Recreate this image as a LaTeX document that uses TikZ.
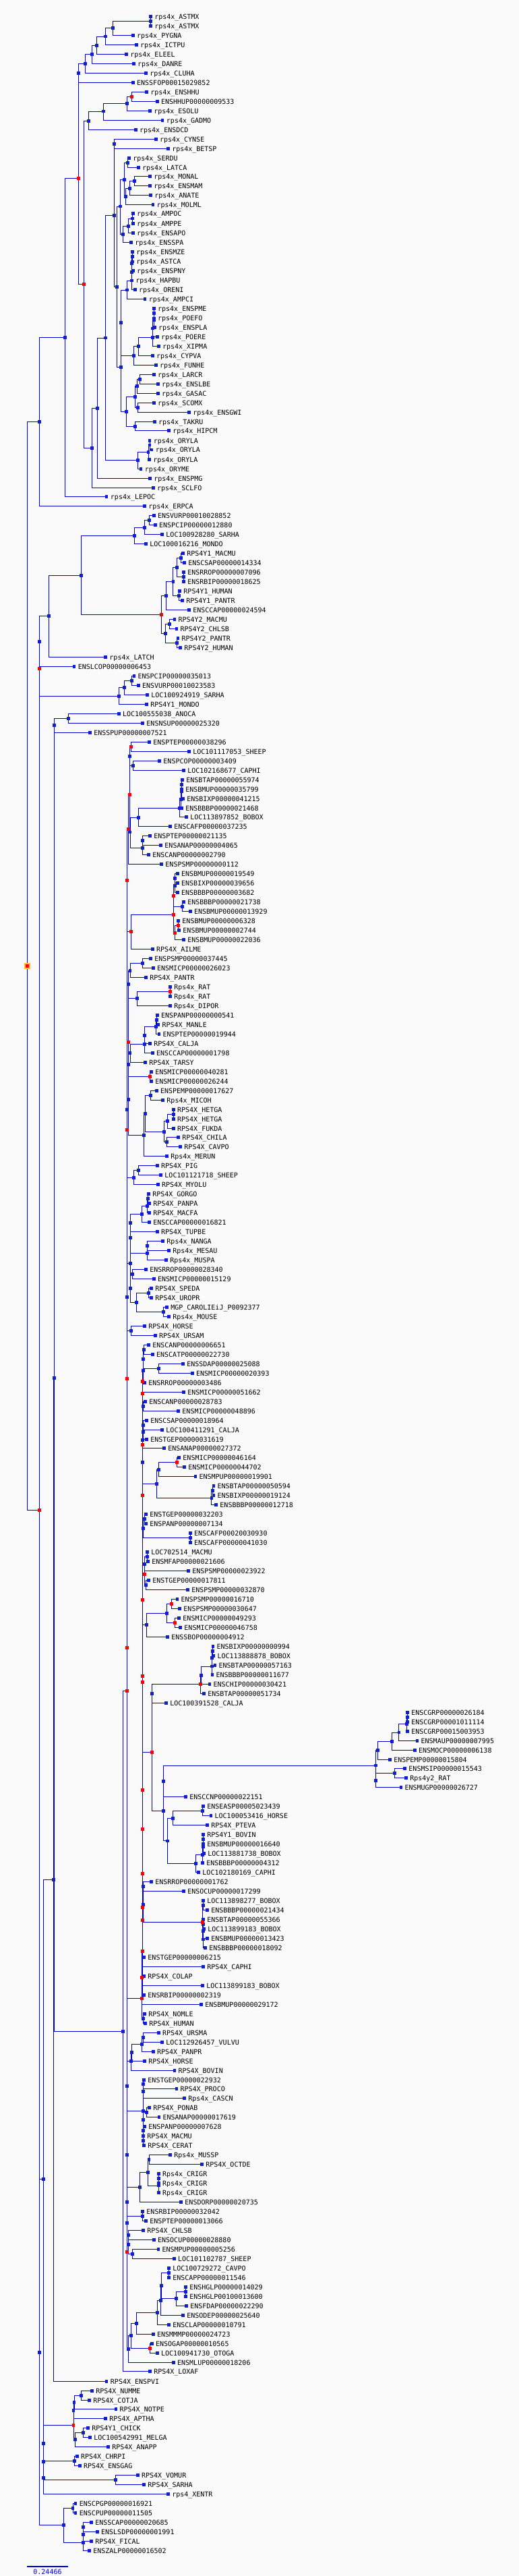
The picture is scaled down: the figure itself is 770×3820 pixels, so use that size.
\documentclass[tikz,border=0pt]{standalone}
\usepackage{fontspec}
\newfontfamily\lblfam{DejaVu Sans Mono}
\definecolor{lineblue}{RGB}{0,0,204}
\definecolor{sqblue}{RGB}{16,32,204}
\definecolor{nodered}{RGB}{255,0,0}
\definecolor{bgcol}{RGB}{250,250,250}
\definecolor{hlyellow}{RGB}{240,192,64}
\pgfdeclarelayer{bg}
\pgfsetlayers{bg,main}
\tikzset{
  lsq/.style={fill=sqblue,draw=none,minimum size=3.4pt,inner sep=0pt,outer sep=0pt},
  isq/.style={fill=sqblue,draw=none,minimum size=3.6pt,inner sep=0pt,outer sep=0pt},
  rsq/.style={fill=nodered,draw=none,minimum size=3.6pt,inner sep=0pt,outer sep=0pt},
  lbl/.style={anchor=base west,inner sep=0pt,font=\lblfam\fontsize{7.5pt}{7.5pt}\selectfont},
  edge/.style={draw=lineblue,line width=0.75pt}
}
\makeatletter
\def\edgelist{}
\newcommand\kidsdraw[2]{\foreach \kid in {#2}{\draw[edge] (#1.center) |- (\kid.center);}}
\newcommand\kids[2]{\g@addto@macro\edgelist{\kidsdraw{#1}{#2}}}
\makeatother
\newcommand\Lf[4]{\node[lsq] (#1) at (#2,#3) {}; \node[lbl] (#1t) at (#2+5.5,#3+3.8) {#4};}
\newcommand\In[4]{\node[isq] (#1) at (#2,#3) {}; \kids{#1}{#4}}
\newcommand\Rn[4]{\node[rsq] (#1) at (#2,#3) {}; \kids{#1}{#4}}
\begin{document}
\begin{tikzpicture}[x=0.75pt,y=-0.75pt]
\useasboundingbox (0,0) rectangle (770,3820);
% ---------- leaves, top clade
\Lf{A1}{223.5}{24.3}{rps4x\_ASTMX}
\Lf{A2}{223.5}{38.3}{rps4x\_ASTMX}
\Lf{A3}{197.4}{52.3}{rps4x\_PYGNA}
\Lf{A4}{202.4}{66.3}{rps4x\_ICTPU}
\Lf{A5}{187.6}{80.3}{rps4x\_ELEEL}
\Lf{A6}{198.4}{94.3}{rps4x\_DANRE}
\Lf{A7}{216.6}{108.3}{rps4x\_CLUHA}
\Lf{A8}{197.4}{122.3}{ENSSFOP00015029852}
\Lf{A9}{217.6}{136.3}{rps4x\_ENSHHU}
\Lf{A10}{233.3}{150.3}{ENSHHUP00000009533}
\Lf{A11}{222.5}{164.3}{rps4x\_ESOLU}
\Lf{A12}{241.2}{178.3}{rps4x\_GADMO}
\Lf{A13}{201.4}{192.3}{rps4x\_ENSDCD}
\Lf{A14}{231.3}{206.3}{rps4x\_CYNSE}
\Lf{A15}{249.5}{220.3}{rps4x\_BETSP}
\Lf{A16}{191.6}{234.7}{rps4x\_SERDU}
\Lf{A17}{205.3}{248.7}{rps4x\_LATCA}
\Lf{A18}{222.5}{261.3}{rps4x\_MONAL}
\Lf{A19}{222.5}{275.3}{rps4x\_ENSMAM}
\Lf{A20}{223.5}{289.3}{rps4x\_ANATE}
\Lf{A21}{226.9}{303.3}{rps4x\_MOLML}
\Lf{A22}{197.4}{316.7}{rps4x\_AMPOC}
\Lf{A23}{197.4}{331.3}{rps4x\_AMPPE}
\Lf{A24}{197.4}{345.3}{rps4x\_ENSAPO}
\Lf{A25}{194.5}{359.3}{rps4x\_ENSSPA}
\Lf{A26}{196.5}{373.3}{rps4x\_ENSMZE}
\Lf{A27}{196.5}{388}{rps4x\_ASTCA}
\Lf{A28}{197.4}{401.3}{rps4x\_ENSPNY}
\Lf{A29}{195.5}{416}{rps4x\_HAPBU}
\Lf{A30}{200.4}{429.3}{rps4x\_ORENI}
\Lf{A31}{215.1}{443.3}{rps4x\_AMPCI}
\Lf{A32}{228.4}{457.3}{rps4x\_ENSPME}
\Lf{A33}{228.4}{472}{rps4x\_POEFO}
\Lf{A34}{229.4}{485.7}{rps4x\_ENSPLA}
\Lf{A35}{233.3}{499.7}{rps4x\_POERE}
\Lf{A36}{235.3}{513.3}{rps4x\_XIPMA}
\Lf{A37}{226.4}{527.3}{rps4x\_CYPVA}
\Lf{A38}{231.3}{541.3}{rps4x\_FUNHE}
\Lf{A39}{228.4}{555.3}{rps4x\_LARCR}
\Lf{A40}{234.3}{569.3}{rps4x\_ENSLBE}
\Lf{A41}{234.3}{583.3}{rps4x\_GASAC}
\Lf{A42}{228.4}{597.3}{rps4x\_SCOMX}
\Lf{A43}{280.5}{611.3}{rps4x\_ENSGWI}
\Lf{A44}{229.4}{625.3}{rps4x\_TAKRU}
\Lf{A45}{250.5}{638.3}{rps4x\_HIPCM}
\Lf{A46}{222}{653.3}{rps4x\_ORYLA}
\Lf{A47}{225}{667}{rps4x\_ORYLA}
\Lf{A48}{221.5}{681.7}{rps4x\_ORYLA}
\Lf{A49}{209.2}{695.7}{rps4x\_ORYME}
\Lf{A50}{222.5}{709.3}{rps4x\_ENSPMG}
\Lf{A51}{227.4}{723.3}{rps4x\_SCLFO}
\Lf{A52}{158.2}{736.3}{rps4x\_LEPOC}
\Lf{A53}{214.6}{750.3}{rps4x\_ERPCA}
% ---------- leaves, second clade
\Lf{B1}{228.4}{764.3}{ENSVURP00010028852}
\Lf{B2}{230.4}{778.3}{ENSPCIP00000012880}
\Lf{B3}{240.7}{792.3}{LOC100928280\_SARHA}
\Lf{B4}{216.6}{806.3}{LOC100016216\_MONDO}
\Lf{B5}{271.6}{820.3}{RPS4Y1\_MACMU}
\Lf{B6}{273.6}{834.3}{ENSCSAP00000014334}
\Lf{B7}{272.6}{848.3}{ENSRROP00000007096}
\Lf{B8}{272.6}{862.3}{ENSRBIP00000018625}
\Lf{B9}{266.7}{876.3}{RPS4Y1\_HUMAN}
\Lf{B10}{270.6}{890.3}{RPS4Y1\_PANTR}
\Lf{B11}{280.5}{904.3}{ENSCCAP00000024594}
\Lf{B12}{258.8}{918.3}{RPS4Y2\_MACMU}
\Lf{B13}{261.8}{932.3}{RPS4Y2\_CHLSB}
\Lf{B14}{263.8}{946.3}{RPS4Y2\_PANTR}
\Lf{B15}{267.7}{960.3}{RPS4Y2\_HUMAN}
\Lf{B16}{156.7}{974.3}{rps4x\_LATCH}
\Lf{B17}{110}{988.3}{ENSLCOP00000006453}
\Lf{B18}{198.9}{1002.3}{ENSPCIP00000035013}
\Lf{B19}{205.3}{1016.3}{ENSVURP00010023583}
\Lf{B20}{218.6}{1030.3}{LOC100924919\_SARHA}
\Lf{B21}{217.6}{1044.7}{RPS4Y1\_MONDO}
\Lf{B22}{176.3}{1058.3}{LOC100555038\_ANOCA}
\Lf{B23}{211.7}{1072.3}{ENSNSUP00000025320}
\Lf{B24}{133.6}{1086.3}{ENSSPUP00000007521}
% ---------- leaves, middle clade
\Lf{C1}{221.5}{1100.3}{ENSPTEP00000038296}
\Lf{C2}{280.5}{1114.3}{LOC101117053\_SHEEP}
\Lf{C3}{236.7}{1128.3}{ENSPCOP00000003409}
\Lf{C4}{272.6}{1142.3}{LOC102168677\_CAPHI}
\Lf{C5}{270.6}{1156.7}{ENSBTAP00000055974}
\Lf{C6}{269.6}{1170.7}{ENSBMUP00000035799}
\Lf{C7}{271.6}{1184.3}{ENSBIXP00000041215}
\Lf{C8}{269.6}{1198.3}{ENSBBBP00000021468}
\Lf{C9}{276.5}{1211.7}{LOC113897852\_BOBOX}
\Lf{C10}{252.5}{1225.3}{ENSCAFP00000037235}
\Lf{C11}{222.5}{1239.3}{ENSPTEP00000021135}
\Lf{C12}{238.7}{1253.3}{ENSANAP00000004065}
\Lf{C13}{220.5}{1267.3}{ENSCANP00000002790}
\Lf{C14}{239.7}{1281.7}{ENSPSMP00000000112}
\Lf{C15}{263.3}{1295.3}{ENSBMUP00000019549}
\Lf{C16}{263.3}{1309.3}{ENSBIXP00000039656}
\Lf{C17}{263.3}{1323.3}{ENSBBBP00000003682}
\Lf{C18}{272.6}{1337.3}{ENSBBBP00000021738}
\Lf{C19}{282.4}{1351.3}{ENSBMUP00000013929}
\Lf{C20}{264.7}{1365.3}{ENSBMUP00000006328}
\Lf{C21}{265.7}{1379.3}{ENSBMUP00000002744}
\Lf{C22}{272.6}{1393.3}{ENSBMUP00000022036}
\Lf{C23}{226.4}{1407.3}{RPS4X\_AILME}
\Lf{C24}{223.5}{1421.3}{ENSPSMP00000037445}
\Lf{C25}{227.4}{1435.3}{ENSMICP00000026023}
\Lf{C26}{216.6}{1449.3}{RPS4X\_PANTR}
\Lf{C27}{252.5}{1463.3}{Rps4x\_RAT}
\Lf{C28}{252.5}{1477.3}{Rps4x\_RAT}
\Lf{C29}{252.5}{1491.3}{Rps4x\_DIPOR}
\Lf{C30}{233.3}{1505.3}{ENSPANP00000000541}
\Lf{C31}{234.8}{1519.3}{RPS4X\_MANLE}
\Lf{C32}{235.8}{1533.3}{ENSPTEP00000019944}
\Lf{C33}{222.5}{1547.3}{RPS4X\_CALJA}
\Lf{C34}{226.4}{1561.3}{ENSCCAP00000001798}
\Lf{C35}{215.6}{1575.3}{RPS4X\_TARSY}
\Lf{C36}{224.5}{1589.3}{ENSMICP00000040281}
\Lf{C37}{224.5}{1603.3}{ENSMICP00000026244}
\Lf{C38}{232.3}{1617.3}{ENSPEMP00000017627}
\Lf{C39}{241.7}{1631.3}{Rps4x\_MICOH}
\Lf{C40}{257.4}{1645.3}{RPS4X\_HETGA}
\Lf{C41}{257.4}{1659.3}{RPS4X\_HETGA}
\Lf{C42}{257.4}{1673.3}{RPS4X\_FUKDA}
\Lf{C43}{264.7}{1686.3}{RPS4X\_CHILA}
\Lf{C44}{267.7}{1700.3}{RPS4X\_CAVPO}
\Lf{C45}{247.5}{1714.3}{Rps4x\_MERUN}
\Lf{C46}{233.3}{1728.3}{RPS4X\_PIG}
\Lf{C47}{238.7}{1742.3}{LOC101121718\_SHEEP}
\Lf{C48}{234.3}{1756.3}{RPS4X\_MYOLU}
\Lf{C49}{220.5}{1770.3}{RPS4X\_GORGO}
\Lf{C50}{221.5}{1784.3}{RPS4X\_PANPA}
\Lf{C51}{221.5}{1798.3}{RPS4X\_MACFA}
\Lf{C52}{221.5}{1812.3}{ENSCCAP00000016821}
\Lf{C53}{233.3}{1826.3}{RPS4X\_TUPBE}
\Lf{C54}{241.7}{1840.3}{Rps4x\_NANGA}
\Lf{C55}{250.5}{1854.3}{Rps4x\_MESAU}
\Lf{C56}{246.6}{1868.3}{Rps4x\_MUSPA}
\Lf{C57}{216.6}{1882.3}{ENSRROP00000028340}
\Lf{C58}{228.4}{1896.3}{ENSMICP00000015129}
\Lf{C59}{224.5}{1910.3}{RPS4X\_SPEDA}
\Lf{C60}{224.5}{1924.3}{RPS4X\_UROPR}
\Lf{C61}{247.5}{1938.3}{MGP\_CAROLIEiJ\_P0092377}
\Lf{C62}{250.5}{1952.3}{Rps4x\_MOUSE}
\Lf{C63}{214.6}{1966.3}{RPS4X\_HORSE}
\Lf{C64}{230.4}{1980.3}{RPS4X\_URSAM}
\Lf{C65}{220.5}{1994.3}{ENSCANP00000006651}
\Lf{C66}{226.4}{2008.3}{ENSCATP00000022730}
\Lf{C67}{271.6}{2022.3}{ENSSDAP00000025088}
\Lf{C68}{285.4}{2036.3}{ENSMICP00000020393}
\Lf{C69}{214.6}{2050.3}{ENSRROP00000003486}
\Lf{C70}{272.6}{2064.3}{ENSMICP00000051662}
\Lf{C71}{215.6}{2078.3}{ENSCANP00000028783}
\Lf{C72}{264.7}{2092.3}{ENSMICP00000048896}
\Lf{C73}{217.6}{2106.3}{ENSCSAP00000018964}
\Lf{C74}{240.7}{2120.3}{LOC100411291\_CALJA}
\Lf{C75}{217.6}{2134.3}{ENSTGEP00000031619}
\Lf{C76}{243.6}{2147.7}{ENSANAP00000027372}
\Lf{C77}{265.7}{2161.3}{ENSMICP00000046164}
\Lf{C78}{273.6}{2175.3}{ENSMICP00000044702}
\Lf{C79}{289.8}{2189.3}{ENSMPUP00000019901}
\Lf{C80}{316.8}{2203.3}{ENSBTAP00000050594}
\Lf{C81}{316.8}{2217.3}{ENSBIXP00000019124}
\Lf{C82}{320.7}{2231.3}{ENSBBBP00000012718}
\Lf{C83}{216.6}{2245.3}{ENSTGEP00000032203}
\Lf{C84}{216.6}{2259.3}{ENSPANP00000007134}
\Lf{C85}{282.4}{2273.3}{ENSCAFP00020030930}
\Lf{C86}{282.4}{2287.3}{ENSCAFP00000041030}
\Lf{C87}{218.6}{2301.3}{LOC702514\_MACMU}
\Lf{C88}{219.5}{2315.3}{ENSMFAP00000021606}
\Lf{C89}{279.5}{2329.3}{ENSPSMP00000023922}
\Lf{C90}{220.5}{2343.3}{ENSTGEP00000017811}
\Lf{C91}{278.5}{2357.3}{ENSPSMP00000032870}
\Lf{C92}{262.8}{2371.3}{ENSPSMP00000016710}
\Lf{C93}{266.7}{2385.3}{ENSPSMP00000030647}
\Lf{C94}{265.7}{2399.3}{ENSMICP00000049293}
\Lf{C95}{267.7}{2413.3}{ENSMICP00000046758}
\Lf{C96}{248.5}{2427.3}{ENSSBOP00000004912}
\Lf{C97}{315.8}{2441.3}{ENSBIXP00000000994}
\Lf{C98}{316.8}{2455.3}{LOC113888878\_BOBOX}
\Lf{C99}{318.8}{2469.3}{ENSBTAP00000057163}
\Lf{C100}{314.8}{2483.3}{ENSBBBP00000011677}
\Lf{C101}{310.9}{2497.3}{ENSCHIP00000030421}
\Lf{C102}{302.6}{2511.3}{ENSBTAP00000051734}
\Lf{C103}{246.6}{2525.3}{LOC100391528\_CALJA}
\Lf{C104}{604.6}{2539.3}{ENSCGRP00000026184}
\Lf{C105}{604.6}{2553.3}{ENSCGRP00001011114}
\Lf{C106}{604.6}{2567.3}{ENSCGRP00015003953}
\Lf{C107}{618.9}{2581.3}{ENSMAUP00000007995}
\Lf{C108}{615.4}{2595.3}{ENSMOCP00000006138}
\Lf{C109}{578.6}{2609.3}{ENSPEMP00000015804}
\Lf{C110}{600.7}{2622.7}{ENSMSIP00000015543}
\Lf{C111}{602.6}{2636.7}{Rps4y2\_RAT}
\Lf{C112}{594.8}{2650.7}{ENSMUGP00000026727}
\Lf{C113}{275.5}{2664.7}{ENSCCNP00000022151}
\Lf{C114}{301.6}{2678.7}{ENSEASP00005023439}
\Lf{C115}{312.9}{2692.7}{LOC100053416\_HORSE}
\Lf{C116}{307.5}{2706.7}{RPS4X\_PTEVA}
\Lf{C117}{301.6}{2720.7}{RPS4Y1\_BOVIN}
\Lf{C118}{301.6}{2734.7}{ENSBMUP00000016640}
\Lf{C119}{302.6}{2748.7}{LOC113881738\_BOBOX}
\Lf{C120}{300.6}{2762.7}{ENSBBBP00000004312}
\Lf{C121}{294.7}{2776.7}{LOC102180169\_CAPHI}
\Lf{C122}{224.5}{2790.3}{ENSRROP00000001762}
\Lf{C123}{272.6}{2804.3}{ENSOCUP00000017299}
\Lf{C124}{301.6}{2818.3}{LOC113898277\_BOBOX}
\Lf{C125}{307.5}{2832.3}{ENSBBBP00000021434}
\Lf{C126}{301.6}{2846.3}{ENSBTAP00000055366}
\Lf{C127}{302.6}{2860.3}{LOC113899183\_BOBOX}
\Lf{C128}{307.5}{2874.3}{ENSBMUP00000013423}
\Lf{C129}{304.5}{2888.3}{ENSBBBP00000018092}
\Lf{C130}{213.7}{2902.3}{ENSTGEP00000006215}
\Lf{C131}{301.6}{2916.3}{RPS4X\_CAPHI}
\Lf{C132}{213.7}{2930.3}{RPS4X\_COLAP}
\Lf{C133}{300.6}{2944.3}{LOC113899183\_BOBOX}
\Lf{C134}{213.7}{2958.3}{ENSRBIP00000002319}
\Lf{C135}{298.6}{2972.3}{ENSBMUP00000029172}
\Lf{C136}{214.6}{2986.3}{RPS4X\_NOMLE}
\Lf{C137}{215.6}{3000.3}{RPS4X\_HUMAN}
\Lf{C138}{235.3}{3014.3}{RPS4X\_URSMA}
\Lf{C139}{240.7}{3028.3}{LOC112926457\_VULVU}
\Lf{C140}{227.4}{3042.3}{RPS4X\_PANPR}
\Lf{C141}{214.6}{3056.3}{RPS4X\_HORSE}
\Lf{C142}{258.8}{3070.3}{RPS4X\_BOVIN}
\Lf{C143}{213.7}{3084.3}{ENSTGEP00000022932}
\Lf{C144}{261.8}{3097.3}{RPS4X\_PROCO}
\Lf{C145}{273.6}{3111.3}{Rps4x\_CASCN}
\Lf{C146}{221.5}{3125.3}{RPS4X\_PONAB}
\Lf{C147}{235.8}{3139.3}{ENSANAP00000017619}
\Lf{C148}{214.6}{3153.3}{ENSPANP00000007628}
\Lf{C149}{212.7}{3167.3}{RPS4X\_MACMU}
\Lf{C150}{213.7}{3181.3}{RPS4X\_CERAT}
\Lf{C151}{252.5}{3195.3}{Rps4x\_MUSSP}
\Lf{C152}{299.6}{3209.3}{RPS4X\_OCTDE}
\Lf{C153}{235.3}{3223.3}{Rps4x\_CRIGR}
\Lf{C154}{235.3}{3237.3}{Rps4x\_CRIGR}
\Lf{C155}{235.3}{3251.3}{Rps4x\_CRIGR}
\Lf{C156}{268.7}{3265.3}{ENSDORP00000020735}
\Lf{C157}{211.7}{3279.3}{ENSRBIP00000032042}
\Lf{C158}{216.6}{3293.3}{ENSPTEP00000013066}
\Lf{C159}{212.7}{3307.3}{RPS4X\_CHLSB}
\Lf{C160}{228.4}{3321.3}{ENSOCUP00000028880}
\Lf{C161}{234.8}{3335.3}{ENSMPUP00000005256}
\Lf{C162}{258.4}{3349.3}{LOC101102787\_SHEEP}
\Lf{C163}{250.5}{3363.3}{LOC100729272\_CAVPO}
\Lf{C164}{250.5}{3377.3}{ENSCAPP00000011546}
\Lf{C165}{275.5}{3391.3}{ENSHGLP00000014029}
\Lf{C166}{275.5}{3405.3}{ENSHGLP00100013600}
\Lf{C167}{276.5}{3419.3}{ENSFDAP00000022290}
\Lf{C168}{271.6}{3433.3}{ENSODEP00000025640}
\Lf{C169}{250.5}{3447.3}{ENSCLAP00000010791}
\Lf{C170}{227.4}{3461.3}{ENSMMMP00000024723}
\Lf{C171}{225.4}{3475.3}{ENSOGAP00000010565}
\Lf{C172}{233.3}{3489.3}{LOC100941730\_OTOGA}
\Lf{C173}{257.4}{3503.3}{ENSMLUP00000018206}
\Lf{C174}{222.5}{3516.7}{RPS4X\_LOXAF}
% ---------- leaves, bottom clade
\Lf{D1}{158.2}{3531.3}{RPS4X\_ENSPVI}
\Lf{D2}{136.5}{3545.3}{RPS4X\_NUMME}
\Lf{D3}{132.6}{3559.3}{RPS4X\_COTJA}
\Lf{D4}{171.9}{3572.3}{RPS4X\_NOTPE}
\Lf{D5}{156.7}{3586.3}{RPS4X\_APTHA}
\Lf{D6}{130.6}{3600.3}{RPS4Y1\_CHICK}
\Lf{D7}{133.6}{3614.3}{LOC100542991\_MELGA}
\Lf{D8}{160.6}{3628.3}{RPS4X\_ANAPP}
\Lf{D9}{114.4}{3642.7}{RPS4X\_CHRPI}
\Lf{D10}{118.4}{3656.3}{RPS4X\_ENSGAG}
\Lf{D11}{204.3}{3670.7}{RPS4X\_VOMUR}
\Lf{D12}{213.7}{3684.3}{RPS4X\_SARHA}
\Lf{D13}{249.5}{3698.3}{rps4\_XENTR}
\Lf{D14}{112}{3712.3}{ENSCPGP00000016921}
\Lf{D15}{112}{3726.3}{ENSCPUP00000011505}
\Lf{D16}{135.6}{3740.3}{ENSSCAP00000020685}
\Lf{D17}{144.4}{3754.3}{ENSLSDP00000001991}
\Lf{D18}{135.6}{3768.3}{RPS4X\_FICAL}
\Lf{D19}{132.6}{3782.3}{ENSZALP00000016502}
% ---------- internal nodes, top clade
\In{a1}{223.5}{31.3}{A1,A2}
\In{a2}{167.5}{41.3}{a1,A3}
\In{a3}{156.7}{54}{a2,A4}
\In{a4}{143.4}{67.3}{a3,A5}
\In{a5}{136.5}{80.3}{a4,A6}
\In{a6}{126.7}{94.3}{a5,A7}
\In{a7}{116.4}{108.3}{a6,A8}
\Rn{b4}{195.5}{143.3}{A9,A10}
\In{b3}{188.6}{153.3}{b4,A11}
\In{b2}{153.7}{165}{b3,A12}
\In{b1}{131.6}{179.3}{b2,A13}
\In{f1}{169.4}{213.3}{A14,A15}
\In{g4}{189.6}{241.3}{A16,A17}
\In{g7}{199.4}{268.3}{A18,A19}
\In{g6}{192.5}{279.3}{g7,A20}
\In{g5}{186.6}{291.3}{g6,A21}
\In{g3}{184.7}{266.3}{g4,g5}
\In{g10}{196.5}{324}{A22,A23}
\In{g9}{190.6}{335.3}{g10,A24}
\In{g8}{182.7}{347.3}{g9,A25}
\In{g2}{178.3}{306}{g3,g8}
\In{i5}{196.5}{380.3}{A26,A27}
\In{i4}{195.5}{390.7}{i5,A28}
\In{i3}{195.5}{403.3}{i4,A29}
\In{i2}{195.5}{416}{i3,A30}
\In{i1}{188.1}{430}{i2,A31}
\In{j6}{228.4}{464.3}{A32,A33}
\In{j5}{228.4}{474.5}{j6,A34}
\In{j4}{226.4}{487}{j5,A35}
\In{j3}{226.4}{500.3}{j4,A36}
\In{j2}{205.3}{513.3}{j3,A37}
\In{j1}{198.4}{527.3}{j2,A38}
\In{h2}{179.3}{478.3}{i1,j1}
\In{k6}{207.3}{562.3}{A39,A40}
\In{k4}{203.3}{572.3}{k6,A41}
\In{k5}{204.3}{604.3}{A42,A43}
\In{k2}{200.4}{588.3}{k4,k5}
\In{k3}{200.4}{632.3}{A44,A45}
\In{k1}{187.6}{610.3}{k2,k3}
\In{h1}{179.3}{544.3}{h2,k1}
\In{g1}{173.3}{425.3}{g2,h1}
\In{d1}{169.4}{319.3}{f1,g1}
\In{e3}{222}{660}{A46,A47}
\In{e2}{220}{670.3}{e3,A48}
\In{e1}{204.3}{682.3}{e2,A49}
\In{c3}{156.5}{501}{d1,e1}
\In{c2}{144.3}{605.3}{c3,A50}
\In{c1}{136.4}{664.3}{c2,A51}
\Rn{R2}{124.3}{421.3}{b1,c1}
\Rn{R1}{116.4}{264.3}{a7,R2}
\In{S1}{96.3}{500.3}{R1,A52}
\In{S2}{58.4}{625.3}{S1,A53}
% ---------- internal nodes, second clade
\In{U7}{221.5}{771.3}{B1,B2}
\In{U6}{214.6}{782.3}{U7,B3}
\In{U4}{199.4}{794.3}{U6,B4}
\In{W6}{268.7}{827.3}{B5,B6}
\In{W7}{272.6}{855.3}{B7,B8}
\In{W4}{262.8}{841.3}{W6,W7}
\In{W5}{265.7}{883.3}{B9,B10}
\In{W3}{256.9}{862.3}{W4,W5}
\In{W1}{246.6}{883.3}{W3,B11}
\In{W8}{251.5}{925.3}{B12,B13}
\In{W9}{262.8}{953.3}{B14,B15}
\In{W2}{245.6}{939.3}{W8,W9}
\Rn{U5}{239.7}{911.3}{W1,W2}
\In{U3}{120.3}{853.3}{U4,U5}
\In{U2}{72.7}{913.3}{U3,B16}
\In{U1}{58.4}{951.3}{U2,B17}
\In{V3}{195.5}{1009.3}{B18,B19}
\In{V2}{184.7}{1019.3}{V3,B20}
\In{V1}{176.3}{1032.3}{V2,B21}
\Rn{T1}{58.4}{991.3}{U1,V1}
\In{X1}{101.7}{1065.3}{B22,B23}
\In{X0}{80.6}{1075.3}{X1,B24}
% ---------- internal nodes, middle clade
\Rn{n1}{194.5}{1107.3}{C1,C2}
\In{n2}{197.4}{1135.3}{C3,C4}
\In{n3}{192.5}{1121.3}{n1,n2}
\In{n4}{269.6}{1163.7}{C5,C6}
\In{n5}{269.6}{1174}{n4,C7}
\In{n6}{268.7}{1185.5}{n5,C8}
\In{n7}{266.7}{1198.3}{n6,C9}
\In{n8}{205.3}{1212.3}{n7,C10}
\In{n11}{211.7}{1246.3}{C11,C12}
\In{n10}{211.7}{1257.3}{n11,C13}
\In{n9}{193}{1234}{n8,n10}
\Rn{n12}{192.5}{1178.3}{n3,n9}
\Rn{n13}{190.6}{1229.3}{n12,C14}
\In{m1}{259.3}{1302.3}{C15,C16}
\In{m2}{259.3}{1313.3}{m1,C17}
\In{m3}{270.6}{1344.3}{C18,C19}
\Rn{mr}{257.4}{1328.3}{m2,m3}
\Rn{m6}{264.7}{1372.3}{C20,C21}
\Rn{m5}{259.3}{1383.3}{m6,C22}
\Rn{m4}{257.4}{1356.3}{mr,m5}
\Rn{n15}{194.5}{1381.3}{m4,C23}
\Rn{n14}{188.6}{1305.3}{n13,n15}
\In{p1}{211.7}{1428.3}{C24,C25}
\In{p2}{193}{1439.3}{p1,C26}
\Rn{p3}{252.5}{1470.3}{C27,C28}
\In{p4}{203.3}{1480.3}{p3,C29}
\In{p5}{190.6}{1459.3}{p2,p4}
\In{p6}{232.3}{1512.3}{C30,C31}
\In{p7}{231.3}{1522.3}{p6,C32}
\In{p8}{214.1}{1535.3}{p7,C33}
\In{p9}{214.1}{1548.3}{p8,C34}
\In{p10}{193}{1561.3}{p9,C35}
\Rn{q2}{222.5}{1596.3}{C36,C37}
\In{q1}{190.6}{1578.3}{p10,q2}
\In{r1}{223.5}{1624.3}{C38,C39}
\In{r2}{257.4}{1652.3}{C40,C41}
\In{r3}{248.5}{1662.3}{r2,C42}
\In{r4}{247.5}{1693.3}{C43,C44}
\In{r5}{243.6}{1678.3}{r3,r4}
\In{r6}{215.6}{1651.3}{r1,r5}
\In{r7}{213.7}{1683.3}{r6,C45}
\In{q3}{190.6}{1630.3}{q1,r7}
\Rn{p11}{190.6}{1545.3}{p5,q3}
\In{s3}{205.3}{1735.3}{C46,C47}
\In{s2}{198.4}{1746.3}{s3,C48}
\In{s1}{188.6}{1645.3}{p11,s2}
\In{t1}{219.5}{1777.3}{C49,C50}
\In{t2}{218.6}{1788.3}{t1,C51}
\In{t3}{210.7}{1800.3}{t2,C52}
\In{t4}{193.5}{1813.3}{t3,C53}
\In{t5}{218.6}{1847.3}{C54,C55}
\In{t6}{218.6}{1858.3}{t5,C56}
\In{t7}{193.5}{1835.3}{t4,t6}
\In{t8}{196.5}{1889.3}{C57,C58}
\In{t12}{220.5}{1917.3}{C59,C60}
\In{t13}{242.6}{1945.3}{C61,C62}
\In{t11}{202.4}{1931.3}{t12,t13}
\In{t10}{193.5}{1910.3}{t8,t11}
\In{t9}{193.5}{1873.3}{t7,t10}
\In{t14}{194.5}{1973.3}{C63,C64}
\In{t15}{188.6}{1923.3}{t9,t14}
\In{u1}{213.7}{2001.3}{C65,C66}
\In{u2}{235.8}{2029.3}{C67,C68}
\In{u3}{212.7}{2015.3}{u1,u2}
\In{u4}{212.7}{2032.3}{u3,C69}
\Rn{u5}{211.7}{2048.5}{u4,C70}
\In{u6}{212.7}{2085.3}{C71,C72}
\Rn{u7}{211.7}{2066.3}{u5,u6}
\In{u8}{212.7}{2113.3}{C73,C74}
\In{u9}{212.7}{2123.5}{u8,C75}
\In{u10}{211.7}{2135.3}{u9,C76}
\Rn{v1}{262.8}{2168.3}{C77,C78}
\In{v2}{235.3}{2179.3}{v1,C79}
\In{v3}{315.8}{2210.3}{C80,C81}
\In{v4}{313.9}{2221.3}{v3,C82}
\In{v5}{232.3}{2200.3}{v2,v4}
\In{w1}{214.6}{2252.3}{C83,C84}
\In{w3}{282.4}{2280.3}{C85,C86}
\In{w2}{212.7}{2266.3}{w1,w3}
\In{w4}{218.6}{2308.3}{C87,C88}
\In{w5}{214.6}{2319.3}{w4,C89}
\In{w6}{216.6}{2350.3}{C90,C91}
\Rn{w7}{214.6}{2334.8}{w5,w6}
\Rn{wa}{254.4}{2378.3}{C92,C93}
\Rn{wb}{259.3}{2406.3}{C94,C95}
\In{w8}{247.5}{2392.3}{wa,wb}
\In{w9}{217.6}{2409.8}{w8,C96}
\Rn{w10}{211.7}{2372.3}{w7,w9}
\In{x1}{315.8}{2448.3}{C97,C98}
\In{x2}{314.8}{2458.8}{x1,C99}
\In{x3}{314.8}{2471}{x2,C100}
\In{x4}{298.6}{2484.3}{x3,C101}
\Rn{x5}{297.6}{2497.8}{x4,C102}
\In{x6}{225.4}{2511.3}{x5,C103}
\In{z1}{604.6}{2546.3}{C104,C105}
\In{z2}{603.6}{2556.8}{z1,C106}
\In{z3}{591.9}{2569}{z2,C107}
\In{z4}{581.5}{2582.2}{z3,C108}
\In{z5}{560.4}{2595.7}{z4,C109}
\In{z7}{585.5}{2629.7}{C110,C111}
\In{z6}{557.5}{2640.2}{z7,C112}
\In{yR}{557.5}{2618}{z5,z6}
\In{y3}{242.6}{2641.3}{yR,C113}
\In{y5}{300.6}{2685.7}{C114,C115}
\In{y4}{256.4}{2696.2}{y5,C116}
\In{y6}{301.6}{2727.7}{C117,C118}
\In{y7}{301.6}{2738.2}{y6,C119}
\In{y8}{300.6}{2750.5}{y7,C120}
\In{y9}{290.8}{2763.6}{y8,C121}
\In{y10}{248.5}{2729.9}{y4,y9}
\In{y2}{242.6}{2685.6}{y3,y10}
\Rn{y1}{225.4}{2598.5}{x6,y2}
\In{aa1}{212.7}{2797.3}{C122,C123}
\In{bb1}{301.6}{2825.3}{C124,C125}
\In{bb2}{301.6}{2853.3}{C126,C127}
\In{bb3}{301.6}{2863.8}{bb2,C128}
\In{bb4}{301.6}{2876}{bb3,C129}
\Rn{bb5}{300.6}{2850.6}{bb1,bb4}
\In{cc1}{212.7}{2993.3}{C136,C137}
\In{n2168}{211.7}{2168.3}{u10,v5}
\Rn{r2217}{211.7}{2217.3}{n2168,w2}
\Rn{r2142}{211.7}{2142.3}{u7,r2217}
\Rn{r2485}{211.7}{2485.3}{w10,y1}
\In{n2824}{212.7}{2824.3}{aa1,bb5}
\Rn{r2654}{211.7}{2654.3}{r2485,n2824}
\Rn{r2778}{211.7}{2778.3}{r2654,C130}
\Rn{r2847}{211.7}{2847.3}{r2778,C131}
\Rn{r2494}{211.7}{2494.3}{r2142,r2847}
\Rn{r2712}{211.7}{2712.3}{r2494,C132}
\Rn{r2828}{211.7}{2828.3}{r2712,C133}
\Rn{r2893}{211.7}{2893.3}{r2828,C134}
\Rn{r2932}{210.7}{2932.3}{r2893,C135}
\Rn{r2963}{210.7}{2963.3}{r2932,cc1}
\Rn{r2443}{188.6}{2443.3}{t15,r2963}
\Rn{r2044}{188.6}{2044.3}{s1,r2443}
\Rn{r1675}{188.6}{1675.3}{n14,r2044}
\In{dd1}{212.7}{3021.3}{C138,C139}
\In{dd2}{210.7}{3031.3}{dd1,C140}
\In{dd3}{195.5}{3043.8}{dd2,C141}
\In{dd4}{194.5}{3056.3}{dd3,C142}
\In{ee1}{212.7}{3090.8}{C143,C144}
\In{ee2}{212.7}{3101.3}{ee1,C145}
\In{ee3}{217.6}{3132.3}{C146,C147}
\In{ee5}{212.7}{3143.3}{ee3,C148}
\In{ee7}{212.7}{3174.3}{C149,C150}
\In{ee6}{212.7}{3159.3}{ee5,ee7}
\In{ee4}{212.7}{3130.3}{ee2,ee6}
\In{ff1}{188.6}{3093.3}{dd4,ee4}
\In{hh1}{221}{3202.3}{C151,C152}
\In{hh2}{235.3}{3230.3}{C153,C154}
\In{hh3}{235.3}{3241}{hh2,C155}
\In{hh4}{219.5}{3221.3}{hh1,hh3}
\In{hh5}{207.8}{3243.3}{hh4,C156}
\In{hh6}{211.7}{3286.3}{C157,C158}
\In{gg1}{188.6}{3265.3}{hh5,hh6}
\In{gg3}{190.6}{3314.3}{C159,C160}
\In{gg4}{196.5}{3342.3}{C161,C162}
\In{gg5}{190.6}{3328.3}{gg3,gg4}
\In{gg2}{188.6}{3296.3}{gg1,gg5}
\In{ff2}{188.6}{3195.3}{ff1,gg2}
\In{jj1}{250.5}{3370.3}{C163,C164}
\In{jj2}{275.5}{3398.3}{C165,C166}
\In{jj3}{261.8}{3408.7}{jj2,C167}
\In{jj4}{239.7}{3389.3}{jj1,jj3}
\In{jj5}{238.7}{3411.3}{jj4,C168}
\In{jj6}{233.3}{3429.3}{jj5,C169}
\In{jj7}{202.4}{3445.3}{jj6,C170}
\Rn{jj8}{222.5}{3482.3}{C171,C172}
\In{jj9}{194.5}{3463.8}{jj7,jj8}
\In{jj10}{190.6}{3483.3}{jj9,C173}
\Rn{r3339}{188.6}{3339.3}{ff2,jj10}
\Rn{BA}{188.6}{2507.3}{r1675,r3339}
\In{Z}{182.7}{3012.3}{BA,C174}
\In{Y1}{80.6}{2043.3}{X0,Z}
\In{Y2}{79.6}{2787.3}{Y1,D1}
% ---------- internal nodes, bottom clade
\In{AK}{120.3}{3552.3}{D2,D3}
\In{AJ}{110}{3562.3}{AK,D4}
\In{AI}{109}{3574.3}{AJ,D5}
\In{AM}{123.3}{3607.3}{D6,D7}
\In{AL}{111.5}{3617.8}{AM,D8}
\Rn{AF}{109}{3596.3}{AI,AL}
\In{AG}{110.5}{3649.5}{D9,D10}
\In{AD}{64.3}{3623.3}{AF,AG}
\In{AE}{171.4}{3677.5}{D11,D12}
\In{AC}{64.3}{3650.3}{AD,AE}
\In{AB}{64.3}{3674.3}{AC,D13}
\In{AA}{64.3}{3231.3}{Y2,AB}
\In{AO}{108}{3719.3}{D14,D15}
\In{AR}{123.3}{3747.3}{D16,D17}
\In{AQ}{123.3}{3758.3}{AR,D18}
\In{AP}{123.3}{3770.3}{AQ,D19}
\In{AN}{94.3}{3744.8}{AO,AP}
\In{TT}{58.4}{3488.3}{AA,AN}
\Rn{T}{58.4}{2239.3}{T1,TT}
% ---------- root (selected)
\node[fill=hlyellow,draw=none,minimum size=6.8pt,inner sep=0pt] (rooth) at (40.3,1432.3) {};
\Rn{Root}{40.3}{1432.3}{S2,T}
% ---------- background and all connectors, behind the squares
\begin{pgfonlayer}{bg}
\fill[bgcol] (0,0) rectangle (770,3820);
\edgelist
\end{pgfonlayer}
% ---------- scale bar
\coordinate (sb1) at (39.8,3805.7);
\coordinate (sb2) at (101.2,3805.7);
\draw[draw=lineblue,line width=1.4pt] (sb1) -- (sb2);
\node[text=lineblue,inner sep=0pt,font=\lblfam\fontsize{7.5pt}{7.5pt}\selectfont] (sblabel) at (70.5,3814.2) {0.24466};
\end{tikzpicture}
\end{document}
